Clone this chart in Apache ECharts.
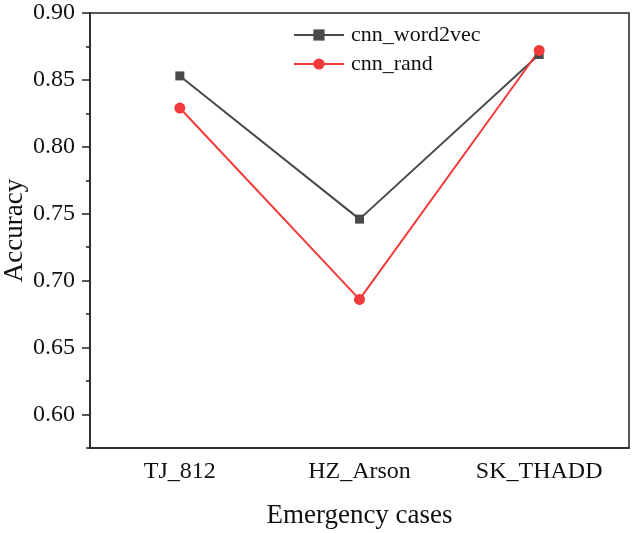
<!DOCTYPE html>
<html>
<head>
<meta charset="utf-8">
<script src="https://cdn.jsdelivr.net/npm/echarts@6/dist/echarts.min.js"></script>
<style>html,body{margin:0;padding:0;background:#fff}#c{width:632px;height:533px}</style>
</head>
<body>
<div id="c"></div>
<script>
const categories = ['TJ_812', 'HZ_Arson', 'SK_THADD'];
const cnnWord2vec = [0.853, 0.746, 0.869];
const cnnRand = [0.829, 0.686, 0.872];
const yMajorTicks = [0.60, 0.65, 0.70, 0.75, 0.80, 0.85, 0.90];
const yMinorTicks = [0.575, 0.625, 0.675, 0.725, 0.775, 0.825, 0.875];

const font = 'Liberation Serif, Times New Roman, serif';
const axisColor = '#222';
const chart = echarts.init(document.getElementById('c'));
chart.setOption({
  animation: false,
  grid: {left: 90, right: 3, top: 13, bottom: 85, show: true, borderColor: axisColor, borderWidth: 1.5,
    backgroundColor: 'transparent', containLabel: false, outerBoundsMode: 'none'},
  legend: {
    orient: 'vertical', left: 288, top: 19, itemWidth: 50, itemHeight: 14, itemGap: 7,
    textStyle: {fontFamily: font, fontSize: 22, color: '#111', lineHeight: 22, padding: [0, 0, 0, 2]},
    data: ['cnn_word2vec', 'cnn_rand']
  },
  xAxis: [{
    type: 'category', data: categories, position: 'bottom',
    name: 'Emergency cases', nameLocation: 'middle', nameGap: 54, nameMoveOverlap: false,
    nameTextStyle: {fontFamily: font, fontSize: 27, color: '#111'},
    axisLine: {lineStyle: {color: axisColor, width: 1.5}},
    axisTick: {alignWithLabel: true, length: 8, lineStyle: {color: axisColor, width: 1.5}},
    axisLabel: {fontFamily: font, fontSize: 24, color: '#111', margin: 12},
    splitLine: {show: false}
  }, {
    type: 'category', data: categories, position: 'bottom',
    axisLine: {show: false},
    axisTick: {alignWithLabel: false, length: 4, lineStyle: {color: axisColor, width: 1.5}},
    axisLabel: {show: false}, splitLine: {show: false}
  }],
  yAxis: [{
    type: 'value', min: 0.575, max: 0.9, position: 'left',
    name: 'Accuracy', nameLocation: 'middle', nameGap: 62, nameMoveOverlap: false,
    nameTextStyle: {fontFamily: font, fontSize: 27, color: '#111'},
    axisLine: {show: true, lineStyle: {color: axisColor, width: 1.5}},
    axisTick: {show: true, length: 8, customValues: yMajorTicks, lineStyle: {color: axisColor, width: 1.5}},
    axisLabel: {fontFamily: font, fontSize: 24, color: '#111', margin: 15, customValues: yMajorTicks,
      formatter: v => v.toFixed(2)},
    splitLine: {show: false}
  }, {
    type: 'value', min: 0.575, max: 0.9, position: 'left',
    axisLine: {show: false},
    axisTick: {show: true, length: 4, customValues: yMinorTicks, lineStyle: {color: axisColor, width: 1.5}},
    axisLabel: {show: false}, splitLine: {show: false}
  }],
  series: [{
    name: 'cnn_word2vec', type: 'line', data: cnnWord2vec, xAxisIndex: 0, yAxisIndex: 0,
    symbol: 'rect', symbolSize: 9,
    lineStyle: {color: '#4a4a4a', width: 2}, itemStyle: {color: '#4a4a4a'}
  }, {
    name: 'cnn_rand', type: 'line', data: cnnRand, xAxisIndex: 0, yAxisIndex: 0,
    symbol: 'circle', symbolSize: 11,
    lineStyle: {color: '#f23a3a', width: 2}, itemStyle: {color: '#f23a3a'}
  }]
});
</script>
</body>
</html>
